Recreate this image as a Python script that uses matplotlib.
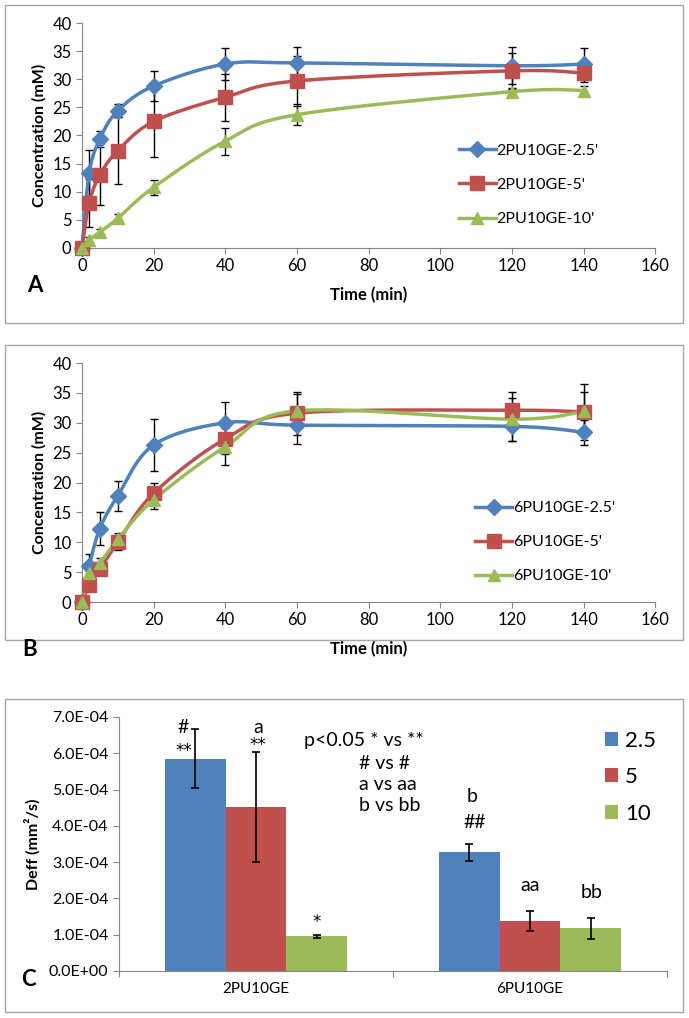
import numpy as np
import matplotlib.pyplot as plt
from matplotlib.patches import Rectangle

plt.rcParams['font.family'] = ['Lato', 'DejaVu Sans']

BLUE = '#4F81BD'
RED = '#C0504D'
GREEN = '#9BBB59'

TIME = [0, 2, 5, 10, 20, 40, 60, 120, 140]

# panel A: 2PU10GE release
A_LABELS = ["2PU10GE-2.5'", "2PU10GE-5'", "2PU10GE-10'"]
A_25 = [0, 13.3, 19.4, 24.4, 28.8, 32.7, 32.9, 32.4, 32.7]
A_25_ERR = [0, 4.2, 1.4, 1.2, 2.6, 2.8, 2.8, 3.3, 2.8]
A_5 = [0, 8.0, 13.0, 17.3, 22.5, 26.8, 29.7, 31.5, 31.1]
A_5_ERR = [0, 4.3, 5.4, 6.0, 6.3, 4.2, 4.5, 3.2, 1.5]
A_10 = [0, 1.5, 2.8, 5.3, 10.8, 19.0, 23.7, 27.8, 28.0]
A_10_ERR = [0, 0.5, 0.6, 0.7, 1.3, 2.4, 1.9, 0.6, 0.8]

# panel B: 6PU10GE release
B_LABELS = ["6PU10GE-2.5'", "6PU10GE-5'", "6PU10GE-10'"]
B_25 = [0, 6.0, 12.3, 17.8, 26.3, 30.0, 29.6, 29.4, 28.4]
B_25_ERR = [0, 2.0, 2.7, 2.5, 4.3, 3.5, 3.1, 2.5, 2.1]
B_5 = [0, 2.8, 5.5, 10.0, 18.2, 27.3, 31.6, 32.1, 31.8]
B_5_ERR = [0, 0.8, 1.0, 1.3, 1.8, 2.5, 3.6, 3.0, 4.7]
B_10 = [0, 4.8, 6.5, 10.5, 17.1, 26.0, 32.0, 30.6, 31.9]
B_10_ERR = [0, 0.6, 0.8, 1.0, 1.5, 3.1, 2.8, 3.6, 3.3]

# panel C: Deff
C_GROUPS = ['2PU10GE', '6PU10GE']
C_LABELS = ['2.5', '5', '10']
C_25 = [5.85e-4, 3.27e-4]
C_25_ERR = [0.82e-4, 0.23e-4]
C_5 = [4.52e-4, 1.38e-4]
C_5_ERR = [1.52e-4, 0.28e-4]
C_10 = [0.95e-4, 1.18e-4]
C_10_ERR = [0.05e-4, 0.29e-4]


def smooth(x, y, n=30):
    # Excel style smoothed line (Catmull-Rom bezier through the points)
    pts = np.column_stack([x, y]).astype(float)
    pts = np.vstack([pts[0], pts, pts[-1]])
    t = np.linspace(0, 1, n)[:, None]
    out = []
    for i in range(len(x) - 1):
        p0, p1, p2, p3 = pts[i], pts[i + 1], pts[i + 2], pts[i + 3]
        b1 = p1 + (p2 - p0) / 6
        b2 = p2 - (p3 - p1) / 6
        seg = ((1 - t) ** 3 * p1 + 3 * (1 - t) ** 2 * t * b1
               + 3 * (1 - t) * t ** 2 * b2 + t ** 3 * p2)
        out.append(seg)
    out = np.vstack(out)
    return out[:, 0], out[:, 1]


def style_axes(ax):
    for s in ['top', 'right']:
        ax.spines[s].set_visible(False)
    for s in ['left', 'bottom']:
        ax.spines[s].set_color('#868686')
    ax.tick_params(direction='out', length=4, color='#868686', labelsize=12)


def release_panel(ax, series, labels, legend_pos):
    markers = ['D', 's', '^']
    sizes = [8, 10, 9]
    colors = [BLUE, RED, GREEN]
    handles = []
    for (vals, err), lab, m, ms, c in zip(series, labels, markers, sizes, colors):
        ax.errorbar(TIME, vals, yerr=err, fmt='none', ecolor='black',
                    elinewidth=1, capsize=3, capthick=1, zorder=2, clip_on=False)
        sx, sy = smooth(TIME, vals)
        ax.plot(sx, sy, color=c, lw=2.5, zorder=3, clip_on=False)
        ax.plot(TIME, vals, ls='none', marker=m, ms=ms, color=c, zorder=4, clip_on=False)
        h, = ax.plot([], [], color=c, lw=2.5, marker=m, ms=ms)
        handles.append(h)
    ax.set_xlim(0, 160)
    ax.set_ylim(0, 40)
    ax.set_xticks(range(0, 161, 20))
    ax.set_yticks(range(0, 41, 5))
    ax.set_xlabel('Time (min)', fontsize=12, fontweight='bold', labelpad=9)
    ax.set_ylabel('Concentration (mM)', fontsize=11.5, fontweight='bold', labelpad=4)
    style_axes(ax)
    ax.legend(handles, labels, frameon=False, fontsize=11.5, handlelength=2.3,
              labelspacing=1.25, handletextpad=0.05, loc='upper left',
              bbox_to_anchor=legend_pos, bbox_transform=ax.figure.transFigure)


fig = plt.figure(figsize=(6.89, 10.18), dpi=100)

for y0, h in [(0.6827, 0.3124), (0.3713, 0.2898), (0.0059, 0.3075)]:
    fig.patches.append(Rectangle((0.0073, y0), 0.984, h, transform=fig.transFigure,
                                 fill=False, edgecolor='#a6a6a6', lw=1))

axA = fig.add_axes([0.119, 0.7564, 0.832, 0.221])
release_panel(axA, [(A_25, A_25_ERR), (A_5, A_5_ERR), (A_10, A_10_ERR)],
              A_LABELS, (0.645, 0.873))

axB = fig.add_axes([0.119, 0.4086, 0.832, 0.2348])
release_panel(axB, [(B_25, B_25_ERR), (B_5, B_5_ERR), (B_10, B_10_ERR)],
              B_LABELS, (0.669, 0.522))

fig.text(0.040, 0.720, 'A', fontsize=16, fontweight='bold', va='center')
fig.text(0.033, 0.362, 'B', fontsize=16, fontweight='bold', va='center')
fig.text(0.030, 0.038, 'C', fontsize=16, fontweight='bold', va='center')

# panel C bars
axC = fig.add_axes([0.1727, 0.0462, 0.7953, 0.2495])
x = np.arange(len(C_GROUPS))
w = 0.222
for off, vals, err, c, lab in [(-w, C_25, C_25_ERR, BLUE, C_LABELS[0]),
                                (0, C_5, C_5_ERR, RED, C_LABELS[1]),
                                (w, C_10, C_10_ERR, GREEN, C_LABELS[2])]:
    axC.bar(x + off, vals, width=w, color=c, label=lab, zorder=2)
    axC.errorbar(x + off, vals, yerr=err, fmt='none', ecolor='black',
                 elinewidth=1.2, capsize=3, capthick=1.2, zorder=3)
axC.set_xlim(-0.5, 1.5)
axC.set_ylim(0, 7e-4)
axC.set_yticks(np.arange(0, 7.01e-4, 1e-4))
axC.set_yticklabels(['{:.1E}'.format(v) for v in np.arange(0, 7.01e-4, 1e-4)])
axC.set_xticks([-0.5, 0.5, 1.5])
axC.set_xticklabels([])
axC.set_xticks(x, minor=True)
axC.set_xticklabels(C_GROUPS, minor=True)
style_axes(axC)
axC.tick_params(axis='y', labelsize=11.5)
axC.tick_params(axis='x', which='minor', length=0, pad=8, labelsize=11)
axC.set_ylabel('Deff (mm\u00b2/s)', fontsize=11.5, fontweight='bold', labelpad=6)
axC.legend(frameon=False, fontsize=16, handlelength=0.6, handleheight=0.6,
           handletextpad=0.3, labelspacing=0.75, loc='upper left',
           bbox_to_anchor=(0.849, 0.302), bbox_transform=fig.transFigure)

notes = [(-0.266, 6.72e-4, '#'), (0.007, 6.72e-4, 'a'),
         (0.788, 4.80e-4, 'b'), (0.80, 4.09e-4, '##'),
         (1.0, 2.36e-4, 'aa'), (1.226, 2.17e-4, 'bb')]
for nx, ny, s in notes:
    axC.text(nx, ny, s, fontsize=14, ha='center', va='center')
stars = [(-0.263, 6.05e-4, '**'), (0.007, 6.24e-4, '**'), (0.223, 1.34e-4, '*')]
for nx, ny, s in stars:
    axC.text(nx, ny, s, fontsize=12, ha='center', va='center', family='DejaVu Sans')
axC.text(0.175, 6.34e-4, 'p<0.05 * vs **', fontsize=14, ha='left', va='center')
axC.text(0.376, 5.73e-4, '# vs #', fontsize=14, ha='left', va='center')
axC.text(0.376, 5.13e-4, 'a vs aa', fontsize=14, ha='left', va='center')
axC.text(0.376, 4.55e-4, 'b vs bb', fontsize=14, ha='left', va='center')

fig.savefig('out.png', dpi=100)
